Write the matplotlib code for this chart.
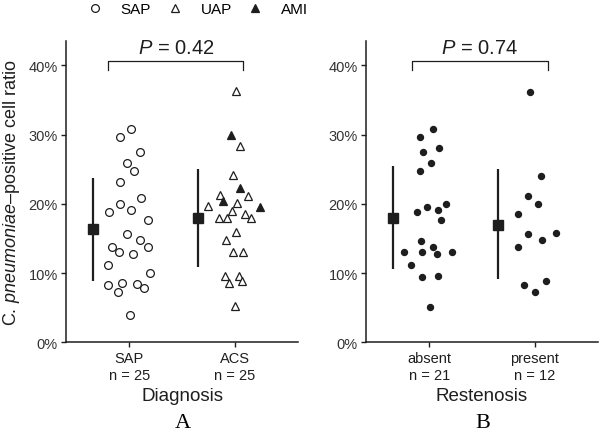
import matplotlib
matplotlib.use("Agg")
import matplotlib.pyplot as plt
from matplotlib.lines import Line2D

plt.rcParams["font.family"] = ["Liberation Sans", "DejaVu Sans"]
plt.rcParams["mathtext.fontset"] = "custom"
plt.rcParams["mathtext.rm"] = "Liberation Sans"
plt.rcParams["mathtext.it"] = "Liberation Sans:italic"

INK = "#1e1e1e"

# panel A: diagnosis (values in %, x = jitter offset from category centre)
sap_vals = [30.8, 29.7, 27.5, 25.9, 24.7, 23.2, 20.8, 20.0, 19.1, 18.8, 17.7, 15.7, 14.7,
            13.8, 13.8, 13.0, 12.7, 11.2, 10.0, 8.3, 8.6, 8.4, 7.9, 7.2, 4.0]
sap_jit = [0.019, -0.085, 0.104, -0.019, 0.047, -0.085, 0.108, -0.085, 0.016, -0.193, 0.180,
           -0.022, 0.098, -0.165, 0.177, -0.095, 0.038, -0.206, 0.199, -0.199, -0.066, 0.076,
           0.139, -0.108, 0.003]
acs_vals = [36.3, 29.9, 28.3, 24.2, 22.3, 21.3, 21.1, 20.4, 19.7, 20.1, 19.6, 18.9, 18.6,
            18.0, 17.9, 18.0, 15.9, 14.7, 13.1, 13.1, 9.6, 9.6, 8.5, 8.9, 5.2]
acs_jit = [0.013, -0.035, 0.047, -0.013, 0.047, -0.136, 0.123, -0.108, -0.259, 0.022, 0.238,
           -0.025, 0.095, -0.146, -0.073, 0.149, 0.013, -0.085, -0.022, 0.073, -0.095, 0.035,
           -0.054, 0.070, -0.003]
acs_ami = [0, 1, 0, 0, 1, 0, 0, 1, 0, 0, 1, 0, 0, 0, 0, 0, 0, 0, 0, 0, 0, 0, 0, 0, 0]

# panel B: restenosis
absent_vals = [30.8, 29.7, 28.1, 27.5, 25.9, 24.7, 18.8, 19.5, 19.1, 20.0, 17.7, 14.6, 13.8,
               13.0, 13.0, 12.7, 13.0, 11.1, 9.4, 9.5, 5.1]
absent_jit = [0.035, -0.089, 0.092, -0.063, 0.013, -0.089, -0.121, -0.019, 0.079, 0.162, 0.111,
              -0.079, 0.038, -0.241, -0.067, 0.073, 0.216, -0.171, -0.070, 0.079, 0.003]
present_vals = [36.2, 24.0, 21.2, 20.0, 18.6, 15.7, 15.8, 14.7, 13.7, 8.3, 8.8, 7.2]
present_jit = [-0.044, 0.063, -0.060, 0.029, -0.156, -0.063, 0.206, 0.073, -0.156, -0.102,
               0.105, 0.006]

# mean and spread (low, high) per group
means_a = [16.4, 18.0]
lows_a = [8.8, 10.9]
highs_a = [23.8, 25.0]
means_b = [18.0, 17.0]
lows_b = [10.6, 9.1]
highs_b = [25.4, 25.0]

ticks_a = ["SAP\nn = 25", "ACS\nn = 25"]
ticks_b = ["absent\nn = 21", "present\nn = 12"]
yticks = [0, 10, 20, 30, 40]

fig = plt.figure(figsize=(6.01, 4.35), dpi=100)
axA = fig.add_axes([0.110, 0.211, 0.386, 0.692])
axB = fig.add_axes([0.609, 0.211, 0.386, 0.692])


def style(ax, labels, xlabel):
    ax.set_xlim(0.4, 2.6)
    ax.set_ylim(0, 43.5)
    ax.set_xticks([1, 2])
    ax.set_xticklabels(labels, fontsize=10.5, linespacing=1.3, color=INK)
    ax.set_yticks(yticks)
    ax.set_yticklabels([f"{t}%" for t in yticks], fontsize=10.5, color="#333333")
    for s in ["top", "right"]:
        ax.spines[s].set_visible(False)
    for s in ["left", "bottom"]:
        ax.spines[s].set_linewidth(1.1)
        ax.spines[s].set_color(INK)
    ax.tick_params(length=3.5, width=1.0, color=INK, pad=2.5)
    ax.set_xlabel(xlabel, fontsize=13.5, labelpad=4, color=INK)


def summary(ax, means, lows, highs):
    for i in range(2):
        x = i + 1 - 0.345
        ax.plot([x, x], [lows[i], highs[i]], color=INK, lw=1.6, solid_capstyle="butt")
        ax.plot(x, means[i], "s", color=INK, ms=7.3)


def bracket(ax, x0, x1, text, tx):
    ax.plot([x0, x0, x1, x1], [39.3, 40.6, 40.6, 39.3], color=INK, lw=0.9, clip_on=False)
    ax.text(tx, 42.6, text, ha="center", va="center", fontsize=14.5, color=INK)


# panel A
axA.plot([1 + j for j in sap_jit], sap_vals, "o", ms=5.6, mfc="white", mec=INK, mew=0.9)
for j, v, f in zip(acs_jit, acs_vals, acs_ami):
    axA.plot(2 + j, v, "^", ms=6.4, mfc=INK if f else "white", mec=INK, mew=0.9,
             clip_on=False)
summary(axA, means_a, lows_a, highs_a)
style(axA, ticks_a, "Diagnosis")
axA.set_ylabel(r"C. $\mathit{pneumoniae}$–positive cell ratio", fontsize=13, color=INK)
axA.yaxis.set_label_coords(-0.19, 0.5)
bracket(axA, 0.80, 2.08, r"$\mathit{P}$ = 0.42", 1.44)

# panel B
axB.plot([1 + j for j in absent_jit], absent_vals, "o", ms=4.3, color=INK)
axB.plot([2 + j for j in present_jit], present_vals, "o", ms=4.3, color=INK)
summary(axB, means_b, lows_b, highs_b)
style(axB, ticks_b, "Restenosis")
bracket(axB, 0.84, 2.13, r"$\mathit{P}$ = 0.74", 1.48)

fig.text(0.304, 0.026, "A", family="Liberation Serif", fontsize=16, ha="center", va="center")
fig.text(0.804, 0.026, "B", family="Liberation Serif", fontsize=16, ha="center", va="center")

handles = [
    Line2D([], [], ls="", marker="o", ms=5.6, mfc="white", mec=INK, mew=0.9),
    Line2D([], [], ls="", marker="^", ms=6.4, mfc="white", mec=INK, mew=0.9),
    Line2D([], [], ls="", marker="^", ms=6.4, mfc=INK, mec=INK, mew=0.9),
]
fig.legend(handles, ["SAP", "UAP", "AMI"], loc="center", bbox_to_anchor=(0.329, 0.977),
           ncol=3, frameon=False, fontsize=11, handlelength=1.0, handletextpad=1.2,
           columnspacing=1.05, borderpad=0)

fig.savefig("out.png", dpi=100)
